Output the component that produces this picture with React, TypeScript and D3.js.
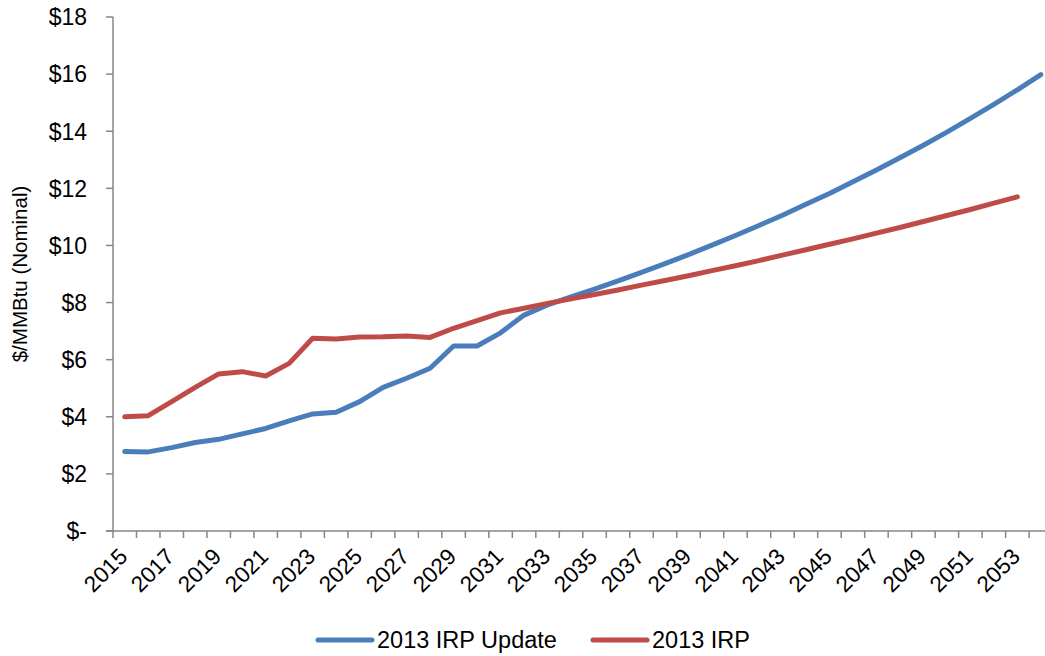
import React from "react";
import * as d3 from "d3";

const years: number[] = [
  2015, 2016, 2017, 2018, 2019, 2020, 2021, 2022, 2023, 2024,
  2025, 2026, 2027, 2028, 2029, 2030, 2031, 2032, 2033, 2034,
  2035, 2036, 2037, 2038, 2039, 2040, 2041, 2042, 2043, 2044,
  2045, 2046, 2047, 2048, 2049, 2050, 2051, 2052, 2053, 2054,
];

const irpUpdate: (number | null)[] = [
  2.78, 2.77, 2.92, 3.1, 3.21, 3.4, 3.59, 3.86, 4.1, 4.16,
  4.53, 5.03, 5.35, 5.7, 6.48, 6.48, 6.94, 7.56, 7.92, 8.2,
  8.47, 8.76, 9.06, 9.36, 9.68, 10.01, 10.35, 10.7, 11.06, 11.44,
  11.82, 12.23, 12.64, 13.07, 13.51, 13.97, 14.45, 14.94, 15.45, 15.98,
];

const irp: (number | null)[] = [
  4.0, 4.04, 4.53, 5.03, 5.5, 5.58, 5.43, 5.87, 6.75, 6.72,
  6.79, 6.8, 6.83, 6.78, 7.1, 7.37, 7.64, 7.8, 7.97, 8.13,
  8.28, 8.44, 8.61, 8.77, 8.94, 9.12, 9.29, 9.47, 9.66, 9.85,
  10.04, 10.23, 10.43, 10.63, 10.84, 11.05, 11.26, 11.48, 11.7, null,
];

const yTicks: number[] = [0, 2, 4, 6, 8, 10, 12, 14, 16, 18];
const yTickLabels: string[] = ["$-", "$2", "$4", "$6", "$8", "$10", "$12", "$14", "$16", "$18"];
const xLabelYears: number[] = years.filter((y) => y % 2 === 1);

const seriesNames: string[] = ["2013 IRP Update", "2013 IRP"];
const seriesColors: string[] = ["#4A7EBB", "#BE4B48"];

const W = 1045;
const H = 656;
const FONT = "'Liberation Sans', Arial, Helvetica, sans-serif";

export default function App() {
  const left = 113;
  const step = 23.49;
  const x = d3
    .scaleBand<number>()
    .domain(years)
    .range([left, left + step * years.length])
    .padding(0);
  const y = d3.scaleLinear().domain([0, 18]).range([531, 17]);
  const bw = x.bandwidth();
  const cx = (yr: number) => (x(yr) as number) + bw / 2;

  const line = d3
    .line<[number, number | null]>()
    .defined((d) => d[1] !== null)
    .x((d) => cx(d[0]))
    .y((d) => y(d[1] as number));

  const data = [irpUpdate, irp];
  const axisColor = "#868686";
  const x0 = left;
  const x1 = left + step * years.length;
  const yBase = y(0);

  return (
    <div style={{ position: "absolute", left: 0, top: 0 }}>
      <svg width={W} height={H} style={{ display: "block", background: "#fff" }} fontFamily={FONT}>
        {/* axes */}
        <line x1={x0} x2={x0} y1={y(18)} y2={yBase} stroke={axisColor} strokeWidth={1.5} />
        <line x1={x0 - 7} x2={x1} y1={yBase} y2={yBase} stroke={axisColor} strokeWidth={1.5} />
        {yTicks.map((t) => (
          <line key={"yt" + t} x1={x0 - 7} x2={x0} y1={y(t)} y2={y(t)} stroke={axisColor} strokeWidth={1.5} />
        ))}
        {years.map((yr) => (
          <line key={"xt" + yr} x1={x(yr) as number} x2={x(yr) as number} y1={yBase} y2={yBase + 7} stroke={axisColor} strokeWidth={1.5} />
        ))}
        {yTicks.map((t, i) => (
          <text key={"yl" + t} x={87} y={y(t)} dy="0.36em" textAnchor="end" fontSize={23} fill="#000">
            {yTickLabels[i]}
          </text>
        ))}
        {xLabelYears.map((yr) => (
          <text
            key={"xl" + yr}
            transform={`translate(${cx(yr) + 4},${558}) rotate(-45)`}
            textAnchor="end"
            fontSize={22.5}
            fill="#000"
          >
            {yr}
          </text>
        ))}
        <text
          transform={`translate(${27},${(y(18) + yBase) / 2}) rotate(-90)`}
          textAnchor="middle"
          fontSize={20.5}
          fill="#000"
        >
          $/MMBtu (Nominal)
        </text>
        {/* lines */}
        {data.map((vals, i) => (
          <path
            key={"s" + i}
            d={line(years.map((yr, j) => [yr, vals[j]] as [number, number | null])) || ""}
            fill="none"
            stroke={seriesColors[i]}
            strokeWidth={5}
            strokeLinecap="round"
            strokeLinejoin="round"
          />
        ))}
        {/* legend */}
        <line x1={318} x2={372} y1={640} y2={640} stroke={seriesColors[0]} strokeWidth={5} strokeLinecap="round" />
        <text x={377} y={640} dy="0.36em" fontSize={23.5} fill="#000">
          {seriesNames[0]}
        </text>
        <line x1={593} x2={647} y1={640} y2={640} stroke={seriesColors[1]} strokeWidth={5} strokeLinecap="round" />
        <text x={652} y={640} dy="0.36em" fontSize={23.5} fill="#000">
          {seriesNames[1]}
        </text>
      </svg>
    </div>
  );
}
